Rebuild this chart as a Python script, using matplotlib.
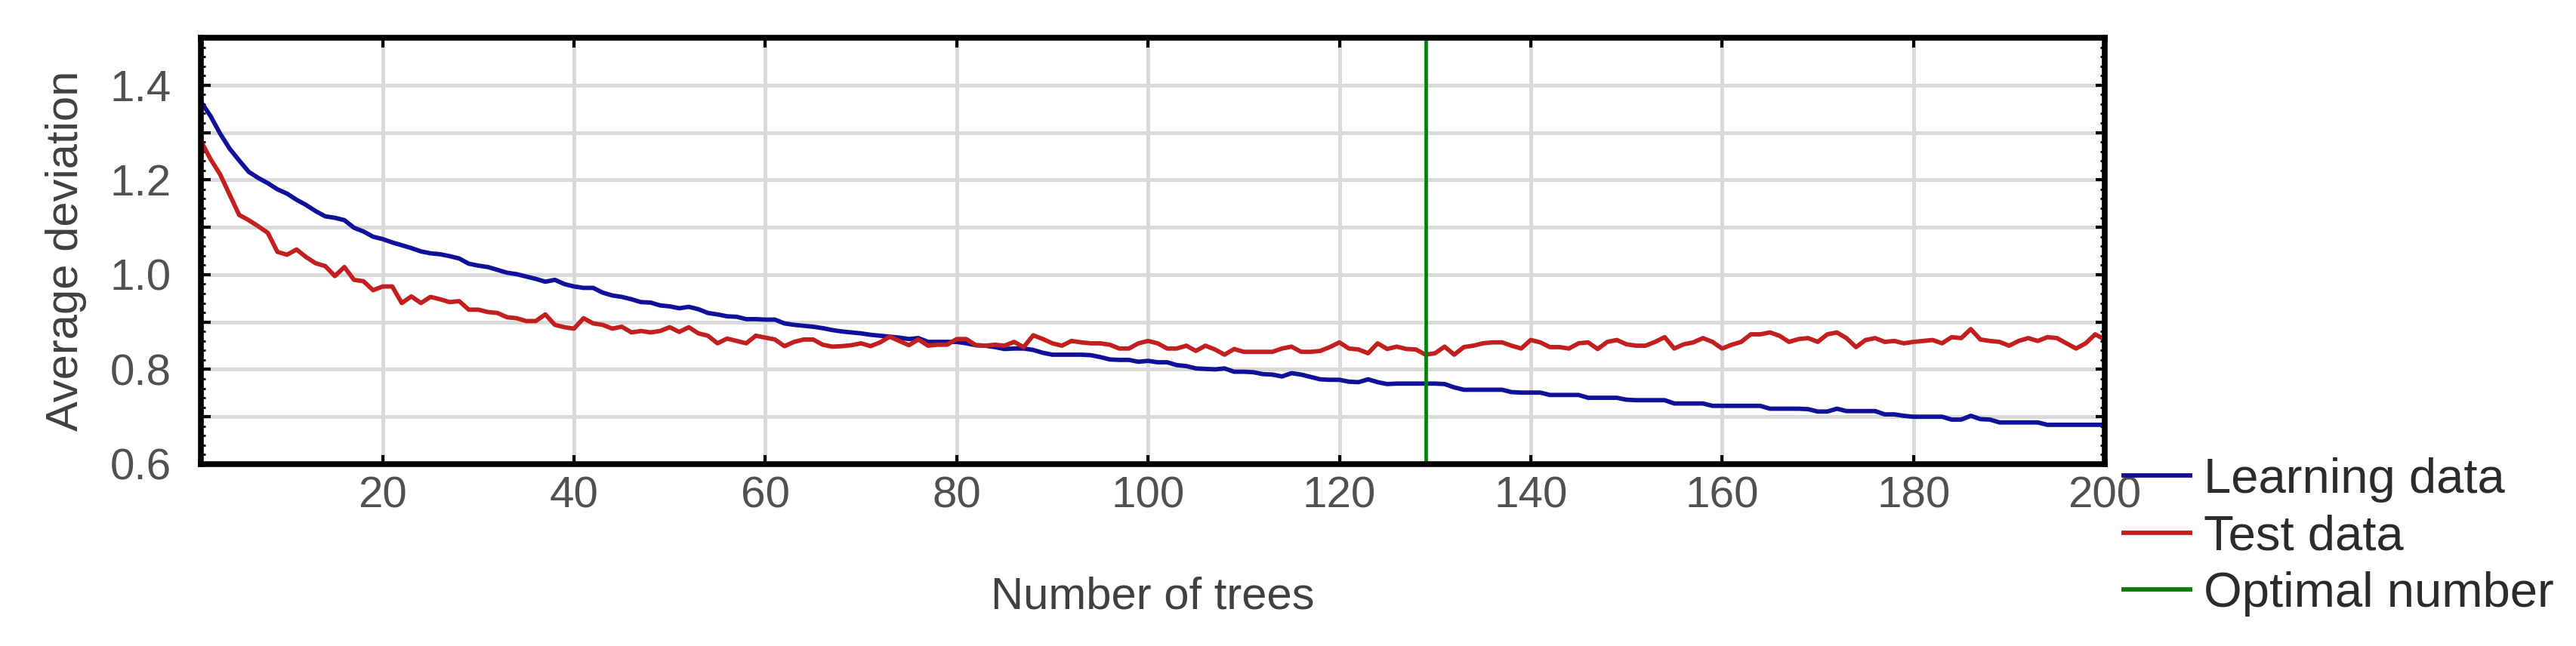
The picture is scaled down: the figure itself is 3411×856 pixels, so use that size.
import numpy as np
import matplotlib
matplotlib.use("Agg")
import matplotlib.pyplot as plt
from matplotlib.ticker import MultipleLocator

plt.rcParams['font.family'] = ['Liberation Sans', 'DejaVu Sans']

trees = list(range(1, 201))

learning = [
    1.365, 1.335, 1.298, 1.266, 1.241, 1.217, 1.204, 1.193, 1.180, 1.171,
    1.158, 1.147, 1.134, 1.123, 1.120, 1.115, 1.099, 1.091, 1.080, 1.075,
    1.068, 1.062, 1.056, 1.049, 1.045, 1.043, 1.039, 1.034, 1.023, 1.019,
    1.016, 1.010, 1.004, 1.001, 0.996, 0.991, 0.985, 0.989, 0.980, 0.975,
    0.972, 0.972, 0.962, 0.956, 0.953, 0.948, 0.942, 0.941, 0.935, 0.933,
    0.929, 0.932, 0.927, 0.919, 0.916, 0.912, 0.911, 0.906, 0.906, 0.905,
    0.905, 0.897, 0.894, 0.892, 0.890, 0.887, 0.883, 0.880, 0.878, 0.876,
    0.873, 0.871, 0.869, 0.867, 0.864, 0.866, 0.858, 0.858, 0.858, 0.858,
    0.855, 0.851, 0.850, 0.847, 0.843, 0.844, 0.844, 0.841, 0.835, 0.831,
    0.831, 0.831, 0.831, 0.830, 0.826, 0.821, 0.820, 0.820, 0.816, 0.818,
    0.815, 0.815, 0.809, 0.807, 0.802, 0.801, 0.800, 0.802, 0.795, 0.795,
    0.794, 0.790, 0.789, 0.785, 0.792, 0.789, 0.784, 0.779, 0.778, 0.778,
    0.774, 0.773, 0.779, 0.773, 0.769, 0.770, 0.770, 0.770, 0.770, 0.770,
    0.769, 0.762, 0.757, 0.757, 0.757, 0.757, 0.757, 0.752, 0.751, 0.751,
    0.751, 0.746, 0.746, 0.746, 0.746, 0.740, 0.740, 0.740, 0.740, 0.736,
    0.735, 0.735, 0.735, 0.735, 0.728, 0.728, 0.728, 0.728, 0.723, 0.723,
    0.723, 0.723, 0.723, 0.723, 0.717, 0.717, 0.717, 0.717, 0.716, 0.711,
    0.711, 0.717, 0.712, 0.712, 0.712, 0.712, 0.705, 0.705, 0.702, 0.700,
    0.700, 0.700, 0.700, 0.694, 0.694, 0.702, 0.695, 0.694, 0.688, 0.688,
    0.688, 0.688, 0.688, 0.683, 0.683, 0.683, 0.683, 0.683, 0.683, 0.683,
]

test = [
    1.282, 1.244, 1.212, 1.169, 1.126, 1.115, 1.102, 1.088, 1.048, 1.042,
    1.053, 1.037, 1.024, 1.018, 0.997, 1.016, 0.989, 0.986, 0.967, 0.975,
    0.975, 0.940, 0.954, 0.940, 0.953, 0.948, 0.942, 0.944, 0.926, 0.926,
    0.921, 0.919, 0.910, 0.908, 0.902, 0.902, 0.916, 0.894, 0.889, 0.886,
    0.908, 0.897, 0.894, 0.886, 0.890, 0.878, 0.881, 0.878, 0.881, 0.889,
    0.879, 0.889, 0.876, 0.871, 0.855, 0.865, 0.860, 0.855, 0.871, 0.867,
    0.863, 0.849, 0.858, 0.863, 0.863, 0.852, 0.848, 0.849, 0.851, 0.855,
    0.849, 0.857, 0.869, 0.860, 0.851, 0.863, 0.850, 0.852, 0.852, 0.864,
    0.864, 0.851, 0.850, 0.852, 0.850, 0.858, 0.847, 0.872, 0.864, 0.855,
    0.850, 0.860, 0.857, 0.855, 0.855, 0.852, 0.844, 0.844, 0.855, 0.860,
    0.855, 0.844, 0.844, 0.850, 0.839, 0.850, 0.842, 0.831, 0.843, 0.837,
    0.837, 0.837, 0.837, 0.844, 0.848, 0.837, 0.837, 0.839, 0.847, 0.857,
    0.844, 0.842, 0.834, 0.855, 0.843, 0.848, 0.843, 0.842, 0.831, 0.834,
    0.848, 0.831, 0.847, 0.850, 0.855, 0.857, 0.857, 0.850, 0.844, 0.862,
    0.857, 0.847, 0.847, 0.844, 0.855, 0.857, 0.843, 0.858, 0.862, 0.853,
    0.850, 0.850, 0.858, 0.868, 0.844, 0.853, 0.857, 0.866, 0.858, 0.844,
    0.852, 0.858, 0.874, 0.874, 0.878, 0.871, 0.858, 0.864, 0.866, 0.858,
    0.874, 0.878, 0.866, 0.847, 0.862, 0.866, 0.858, 0.860, 0.855, 0.858,
    0.860, 0.862, 0.855, 0.868, 0.866, 0.885, 0.863, 0.860, 0.858, 0.850,
    0.860, 0.866, 0.860, 0.868, 0.866, 0.855, 0.844, 0.855, 0.874, 0.863,
]

optimal_number = 129
x_ticks = [20, 40, 60, 80, 100, 120, 140, 160, 180, 200]
y_grid = [0.6, 0.7, 0.8, 0.9, 1.0, 1.1, 1.2, 1.3, 1.4]
y_ticklabels = ["0.6", "", "0.8", "", "1.0", "", "1.2", "", "1.4"]
series_labels = ["Learning data", "Test data", "Optimal number"]
x_label = "Number of trees"
y_label = "Average deviation"

W, H = 3411, 856
fig = plt.figure(figsize=(W / 100, H / 100), dpi=100)
ax = fig.add_axes([266 / W, 1 - 615 / H, (2787 - 266) / W, (615 - 50) / H])

blue = "#10109a"
red = "#c41f1f"
green = "#0b7d0b"

ax.plot(trees, learning, color=blue, lw=4.2, label=series_labels[0], zorder=3)
ax.plot(trees, test, color=red, lw=4.2, label=series_labels[1], zorder=3)
ax.axvline(optimal_number, color=green, lw=3.4, label=series_labels[2], zorder=4)

ax.set_xlim(1, 200)
ax.set_ylim(0.6, 1.5)
ax.set_xticks(x_ticks)
ax.set_yticks(y_grid)
ax.set_yticklabels(y_ticklabels)
ax.yaxis.set_minor_locator(MultipleLocator(0.02))

ax.grid(True, which='major', axis='both', color='#d9d9d9', lw=3.6, zorder=0)
ax.set_axisbelow(True)

for s in ax.spines.values():
    s.set_linewidth(5.5)
    s.set_color('black')
    s.set_zorder(5)

ax.tick_params(axis='both', which='major', direction='in', length=9, width=3,
               labelsize=42, labelcolor='#505050', color='black',
               top=True, right=True)
ax.tick_params(axis='y', which='minor', direction='in', length=4, width=2,
               left=True, right=True, color='black')
ax.tick_params(axis='x', which='major', pad=11)
ax.tick_params(axis='y', which='major', pad=28)

ax.set_xlabel(x_label, fontsize=43, color='#404040')
ax.set_ylabel(y_label, fontsize=43, color='#404040')
ax.yaxis.set_label_coords(-0.060, 0.5)
ax.xaxis.set_label_coords(0.5, -0.262)

leg = ax.legend(loc='upper left', bbox_to_anchor=(2812 / W, 1 - 606 / H),
                bbox_transform=fig.transFigure, frameon=False, fontsize=47,
                handlelength=1.35, handletextpad=0.28, labelspacing=0.24,
                borderpad=0, borderaxespad=0)
for t in leg.get_texts():
    t.set_color('#2b2b2b')
for l in leg.get_lines():
    l.set_linewidth(4.2)

fig.savefig("out.png", dpi=100, facecolor='white')
